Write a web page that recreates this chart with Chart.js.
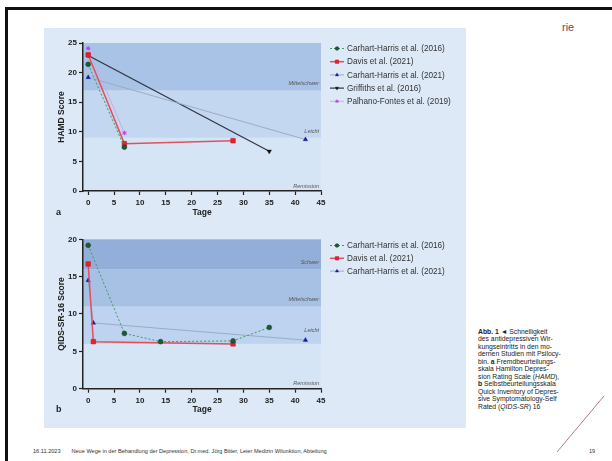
<!DOCTYPE html>
<html><head><meta charset="utf-8">
<script src="https://cdn.jsdelivr.net/npm/chart.js@4.4.1/dist/chart.umd.min.js"></script>
<style>
html,body{margin:0;padding:0;background:#fff;width:612px;height:461px;overflow:hidden;font-family:"Liberation Sans",Arial,sans-serif;}
#topline{position:absolute;left:5px;top:7px;width:607px;height:2.5px;background:#111;}
#leftline{position:absolute;left:5px;top:7px;width:2.5px;height:454px;background:#111;}
#panel{position:absolute;left:44px;top:28px;width:422px;height:400px;background:#dde9f7;}
canvas{position:absolute;}
#ca{left:44px;top:28px;}
#cb{left:44px;top:225px;}
.lbl{position:absolute;font-weight:bold;font-size:9px;color:#222;}
#rie{position:absolute;left:562px;top:21px;font-size:11px;color:#6e4560;}
#caption{position:absolute;left:478px;top:327.5px;font-size:6.8px;line-height:7.5px;color:#222;white-space:pre;}
#footer{position:absolute;left:33px;top:448px;font-size:5.6px;color:#333;white-space:pre;}
#pagenum{position:absolute;left:589px;top:448px;font-size:5.6px;color:#333;}
#diag{position:absolute;left:0;top:0;}
</style></head>
<body>
<div id="topline"></div><div id="leftline"></div>
<div id="rie">rie</div>
<div id="panel"></div>
<canvas id="ca" width="422" height="196" style="width:422px;height:196px"></canvas>
<canvas id="cb" width="422" height="203" style="width:422px;height:203px"></canvas>
<div class="lbl" style="left:56px;top:207px;">a</div>
<div class="lbl" style="left:56px;top:404px;">b</div>
<div id="caption"><b>Abb. 1</b> ◄ Schnelligkeit
des antidepressiven Wir-
kungseintritts in den mo-
dernen Studien mit Psilocy-
bin. <b>a</b> Fremdbeurteilungs-
skala Hamilton Depres-
sion Rating Scale (<i>HAMD</i>),
<b>b</b> Selbstbeurteilungsskala
Quick Inventory of Depres-
sive Symptomatology-Self
Rated (<i>QIDS-SR</i>) 16</div>
<div id="footer">16.11.2023       Neue Wege in der Behandlung der Depression, Dr.med. Jörg Bitter, Leier Medizin Wilunktion, Abteilung</div>
<div id="pagenum">19</div>
<svg id="diag" width="612" height="461"><line x1="604" y1="396" x2="557" y2="452" stroke="#9a5a6a" stroke-width="0.8"/></svg>
<script>
// ---- shared ----
const xTicks = [0, 5, 10, 15, 20, 25, 30, 35, 40, 45];

// ---- panel a: HAMD ----
const hamdTicks = [0, 5, 10, 15, 20, 25];
const hamdBandEdges = [0, 9, 17, 25];
const hamdBandLabels = ['Remission', 'Leicht', 'Mittelschwer'];
const hamdSeriesNames = ['Carhart-Harris et al. (2016)', 'Davis et al. (2021)', 'Carhart-Harris et al. (2021)', 'Griffiths et al. (2016)', 'Palhano-Fontes et al. (2019)'];
const hamdCH2016Days = [0, 7];
const hamdCH2016 = [21.4, 7.4];
const hamdDavisDays = [0, 7, 28];
const hamdDavis = [23.0, 8.0, 8.5];
const hamdCH2021Days = [0, 42];
const hamdCH2021 = [19.2, 8.7];
const hamdGriffDays = [0, 35];
const hamdGriff = [22.9, 6.7];
const hamdPalhDays = [0, 7];
const hamdPalh = [24.1, 9.8];

// ---- panel b: QIDS-SR-16 ----
const qidsTicks = [0, 5, 10, 15, 20];
const qidsBandEdges = [0, 6, 11, 16, 20];
const qidsBandLabels = ['Remission', 'Leicht', 'Mittelschwer', 'Schwer'];
const qidsSeriesNames = ['Carhart-Harris et al. (2016)', 'Davis et al. (2021)', 'Carhart-Harris et al. (2021)'];
const qidsCH2016Days = [0, 7, 14, 28, 35];
const qidsCH2016 = [19.2, 7.4, 6.3, 6.4, 8.2];
const qidsDavisDays = [0, 1, 28];
const qidsDavis = [16.7, 6.3, 6.0];
const qidsCH2021Days = [0, 1, 42];
const qidsCH2021 = [14.5, 8.8, 6.5];

// ---- styles ----
const styles = {
  ch2016: {borderColor:'#3f9a5e', borderWidth:1, borderDash:[2,2], pointStyle:'circle', pointRadius:2.4, pointBackgroundColor:'#1c5c34', pointBorderColor:'#123f22', pointBorderWidth:0.6},
  davis: {borderColor:'#e2505e', borderWidth:1.5, borderDash:[], pointStyle:'rect', pointRadius:3.2, pointBackgroundColor:'#e3222f', pointBorderColor:'#d01824', pointBorderWidth:0.6},
  ch2021: {borderColor:'#9aacc6', borderWidth:1, borderDash:[], pointStyle:'triangle', pointRadius:2.6, pointBackgroundColor:'#1a1aa0', pointBorderColor:'#1a1aa0', pointBorderWidth:0.4},
  griff: {borderColor:'#2e3440', borderWidth:1.2, borderDash:[], pointStyle:'triangle', pointRotation:180, pointRadius:2.6, pointBackgroundColor:'#111', pointBorderColor:'#111', pointBorderWidth:0.4},
  palh: {borderColor:'#c9aee6', borderWidth:1, borderDash:[], pointStyle:'star', pointRadius:2.2, pointBackgroundColor:'#b347d6', pointBorderColor:'#b347d6', pointBorderWidth:1}
};
const bandColorsA = ['#d6e5f6', '#c3d7f0', '#a9c3e6'];
const bandColorsB = ['#d6e5f6', '#bdd3ef', '#a7c1e5', '#93afd9'];

function ds(label, xs, ys, st) {
  return Object.assign({label, data: xs.map((x, i) => ({x, y: ys[i]})), fill:false, tension:0, clip:false}, st);
}

const bandPlugin = {
  id:'bands',
  beforeDraw(chart, args, o) {
    const {ctx, chartArea:a, scales:{y}} = chart;
    ctx.save();
    for (let i = 0; i < o.edges.length - 1; i++) {
      const top = y.getPixelForValue(o.edges[i+1]);
      const bot = y.getPixelForValue(o.edges[i]);
      ctx.fillStyle = o.colors[i];
      ctx.fillRect(a.left, top, a.right - a.left, bot - top);
    }
    ctx.font = 'italic 5.5px "Liberation Sans", Arial, sans-serif';
    ctx.fillStyle = '#555';
    ctx.textAlign = 'right';
    ctx.textBaseline = 'bottom';
    for (let i = 0; i < o.labels.length; i++) {
      const yy = y.getPixelForValue(o.edges[i]) - (o.labelLift[i] || 3);
      ctx.fillText(o.labels[i], a.right - 2, yy);
    }
    ctx.restore();
  },
  afterDraw(chart, args, o) {
    const {ctx} = chart;
    ctx.save();
    chart.data.datasets.forEach((d, i) => {
      const yy = o.legendTop + i * o.legendStep;
      ctx.strokeStyle = d.borderColor;
      ctx.lineWidth = d.borderWidth;
      ctx.setLineDash(d.borderDash || []);
      ctx.beginPath();
      ctx.moveTo(o.legendX - 7, yy);
      ctx.lineTo(o.legendX + 7, yy);
      ctx.stroke();
      ctx.setLineDash([]);
      ctx.fillStyle = d.pointBackgroundColor;
      ctx.strokeStyle = d.pointBorderColor;
      ctx.lineWidth = d.pointBorderWidth;
      Chart.helpers.drawPoint(ctx, {pointStyle: d.pointStyle, rotation: d.pointRotation || 0, radius: d.pointRadius * 0.75, borderWidth: d.pointBorderWidth}, o.legendX, yy);
      ctx.font = '8.2px "Liberation Sans", Arial, sans-serif';
      ctx.fillStyle = '#333';
      ctx.textAlign = 'left';
      ctx.textBaseline = 'middle';
      ctx.fillText(d.label, o.legendX + 10, yy + 0.5);
    });
    ctx.restore();
  }
};

function makeChart(id, datasets, yTicks, yMax, yTitle, H, bottomPx, topPad, titlePadB, bandOpts) {
  return new Chart(document.getElementById(id), {
    type:'line',
    data:{datasets},
    plugins:[bandPlugin],
    options:{
      responsive:false, animation:false, devicePixelRatio:1,
      layout:{padding:{top:topPad, right:145, left:0, bottom:0}},
      plugins:{legend:{display:false}, tooltip:{enabled:false}, bands:bandOpts},
      scales:{
        x:{type:'linear', min:-1, max:45,
          afterBuildTicks:s => { s.ticks = xTicks.map(v => ({value:v})); },
          afterFit:s => { s.height = H - bottomPx; },
          ticks:{font:{size:8, weight:'bold', family:'"Liberation Sans", Arial'}, color:'#222', padding:3, autoSkip:false, maxRotation:0},
          grid:{drawOnChartArea:false, color:'#222', tickLength:4, tickWidth:1.2},
          border:{color:'#222', width:1.5},
          title:{display:true, text:'Tage', color:'#222', font:{size:8.5, weight:'bold', family:'"Liberation Sans", Arial'}, padding:{top:0, bottom:titlePadB}}
        },
        y:{type:'linear', min:0, max:yMax,
          afterBuildTicks:s => { s.ticks = yTicks.map(v => ({value:v})); },
          afterFit:s => { s.width = 39; },
          ticks:{font:{size:8, weight:'bold', family:'"Liberation Sans", Arial'}, color:'#222', padding:2, autoSkip:false},
          grid:{drawOnChartArea:false, color:'#222', tickLength:4, tickWidth:1.2},
          border:{color:'#222', width:1.5},
          title:{display:true, text:yTitle, color:'#222', font:{size:8.5, weight:'bold', family:'"Liberation Sans", Arial'}, padding:{top:13, bottom:0}}
        }
      }
    }
  });
}

makeChart('ca', [
  ds(hamdSeriesNames[0], hamdCH2016Days, hamdCH2016, styles.ch2016),
  ds(hamdSeriesNames[1], hamdDavisDays, hamdDavis, styles.davis),
  ds(hamdSeriesNames[2], hamdCH2021Days, hamdCH2021, styles.ch2021),
  ds(hamdSeriesNames[3], hamdGriffDays, hamdGriff, styles.griff),
  ds(hamdSeriesNames[4], hamdPalhDays, hamdPalh, styles.palh)
], hamdTicks, 25, 'HAMD Score', 196, 163, 15, 6,
  {edges:hamdBandEdges, labels:hamdBandLabels, colors:bandColorsA, labelLift:[2, 4, 4], legendX:293, legendTop:20.5, legendStep:13.2});

makeChart('cb', [
  ds(qidsSeriesNames[0], qidsCH2016Days, qidsCH2016, styles.ch2016),
  ds(qidsSeriesNames[1], qidsDavisDays, qidsDavis, styles.davis),
  ds(qidsSeriesNames[2], qidsCH2021Days, qidsCH2021, styles.ch2021)
], qidsTicks, 20, 'QIDS-SR-16 Score', 203, 163.7, 14.3, 13,
  {edges:qidsBandEdges, labels:qidsBandLabels, colors:bandColorsB, labelLift:[2, 11, 4, 4], legendX:293, legendTop:20.5, legendStep:12.8});
</script>
</body></html>
